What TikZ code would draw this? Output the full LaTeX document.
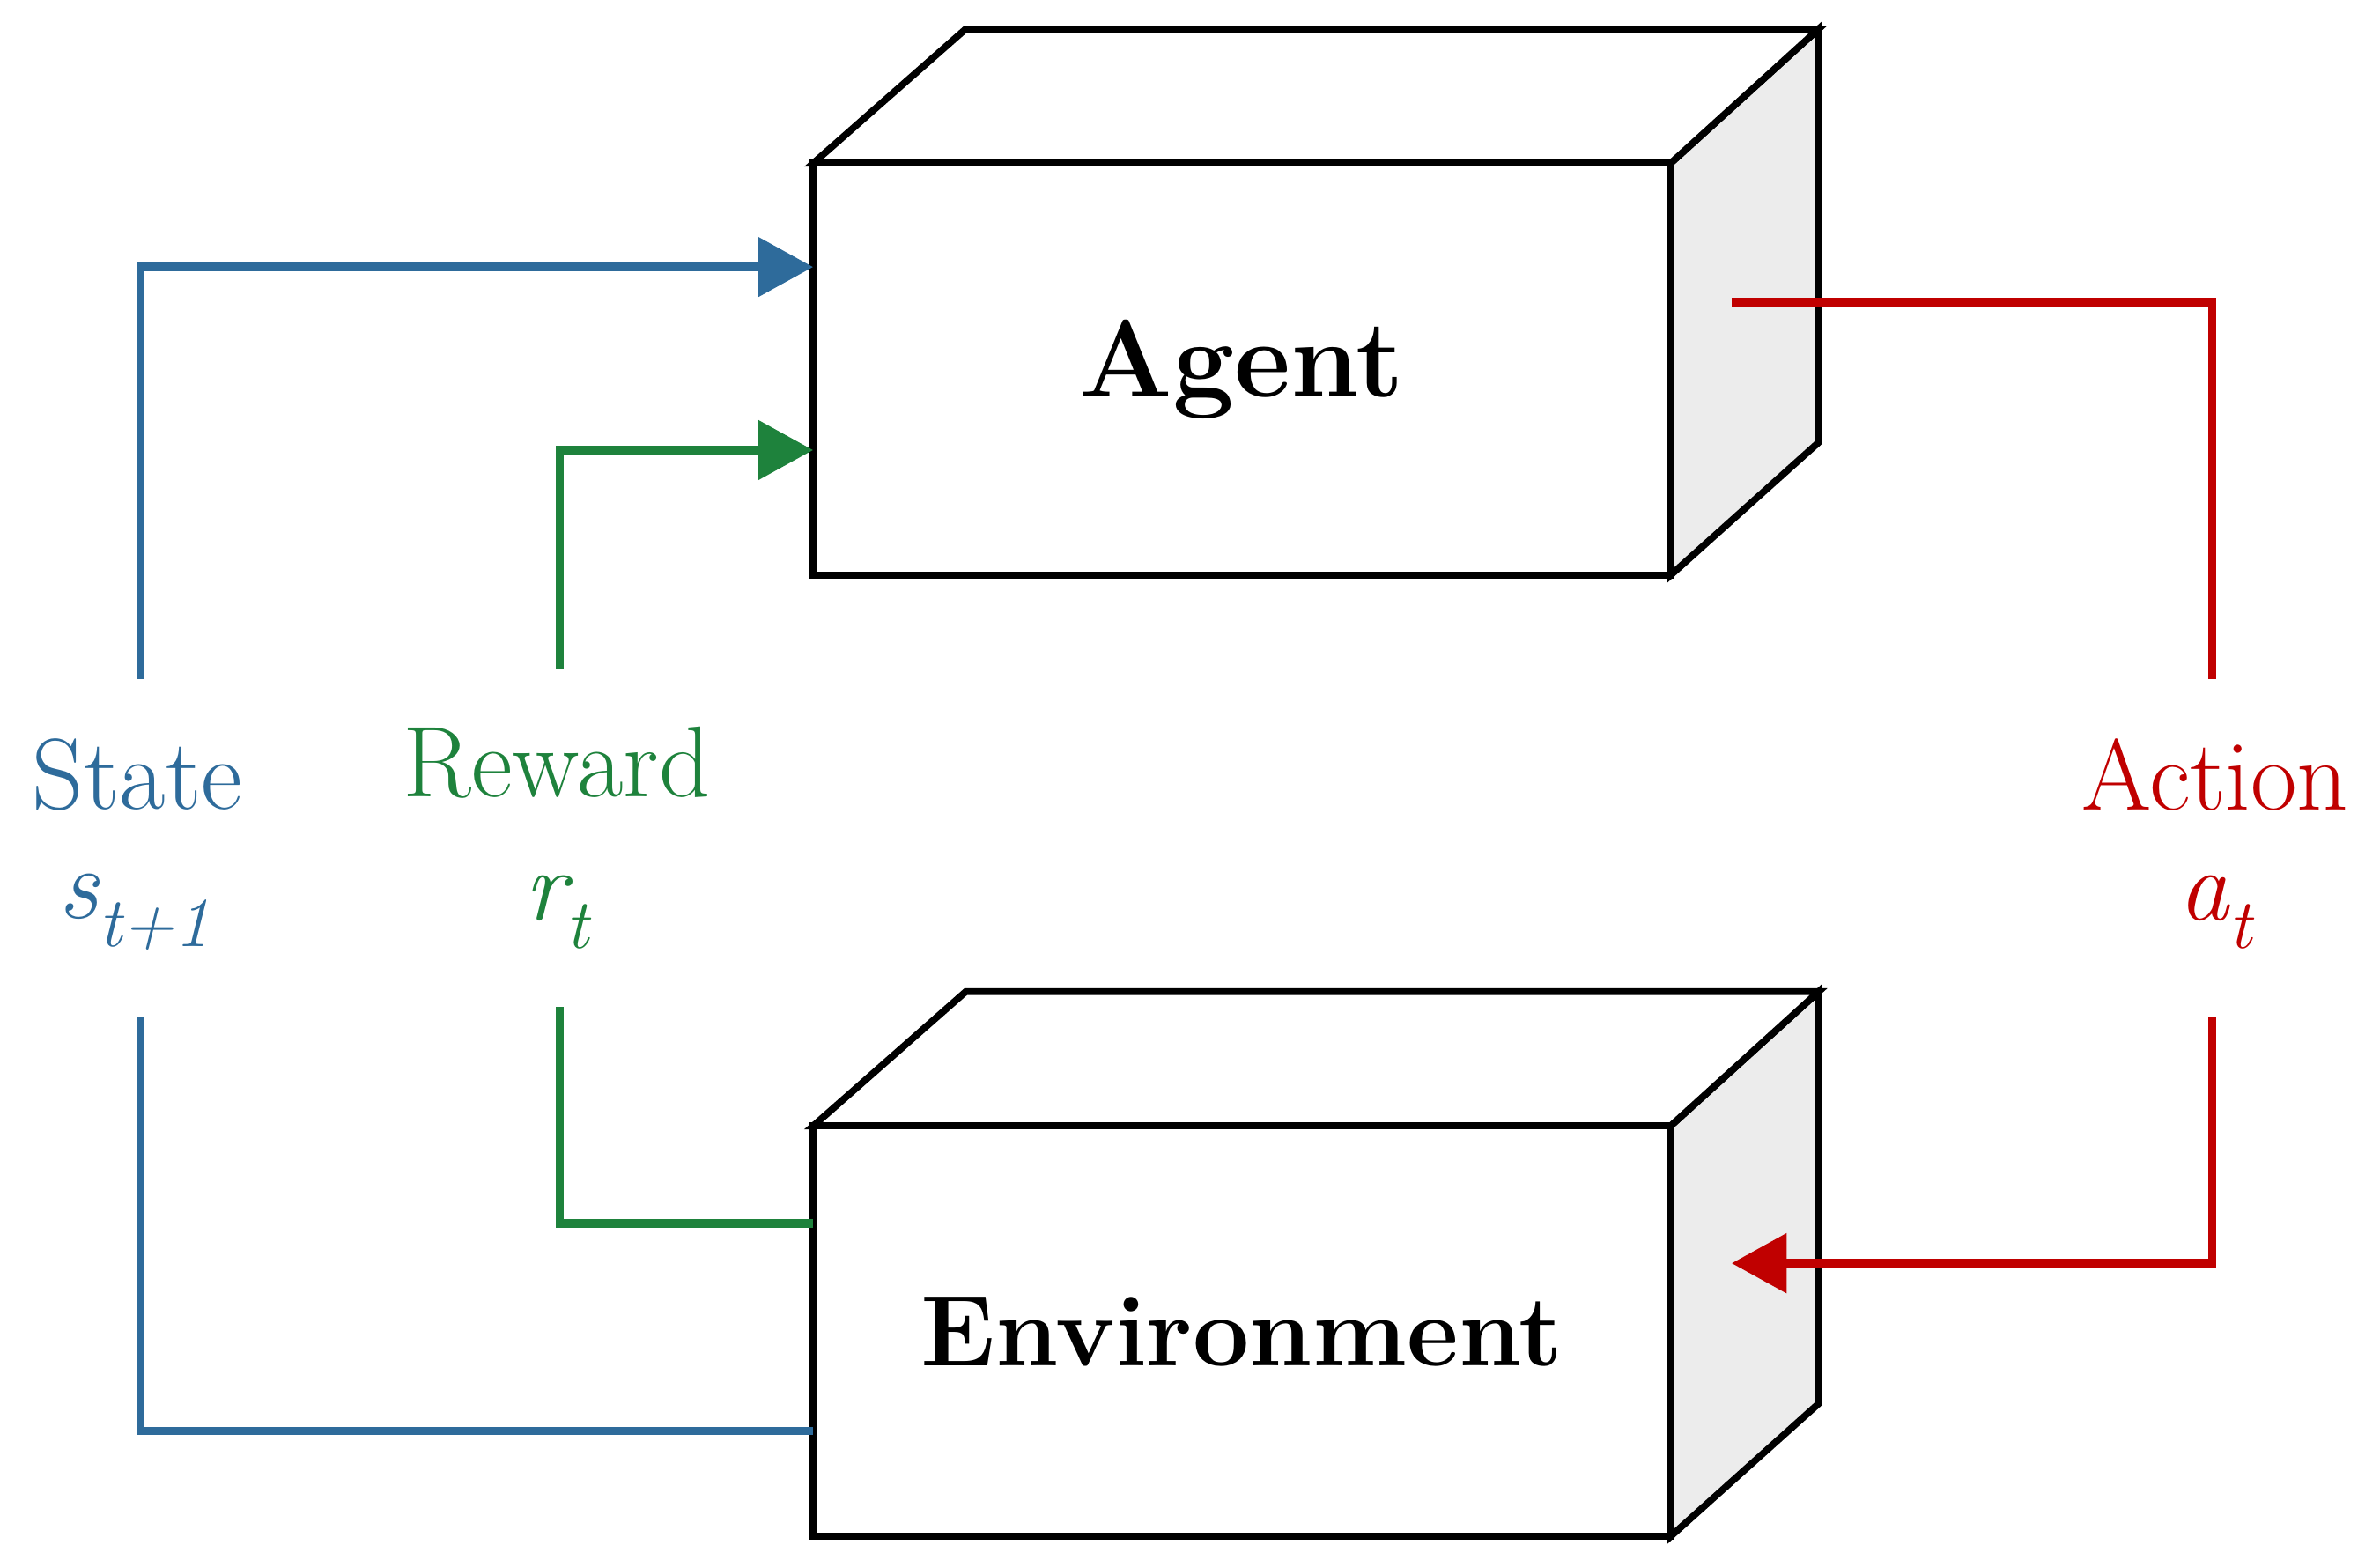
\documentclass[tikz,border=0pt]{standalone}
\usetikzlibrary{arrows.meta}
\begin{document}
\definecolor{sblue}{RGB}{46,107,155}
\definecolor{sgreen}{RGB}{30,130,60}
\definecolor{sred}{RGB}{192,0,0}
\newcommand{\mysub}[1]{\raisebox{-0.28em}{\fontsize{46}{46}\selectfont\itshape #1}}
\begin{tikzpicture}[x=1pt,y=-1pt,
  box/.style={line width=4.5pt,line join=miter},
  conn/.style={line width=5.5pt,line join=miter,-{Triangle[length=36pt,width=38pt]}},
  plain/.style={line width=5.5pt,line join=miter},
  lab/.style={font=\fontsize{66}{70}\selectfont},
  mlab/.style={font=\fontsize{66}{66}\selectfont\itshape}]
\useasboundingbox (0,0) rectangle (1560,1022);
% Agent box
\draw[box,fill=gray!15] (1095,107) -- (1192,19) -- (1192,290) -- (1095,377) -- cycle;
\draw[box,fill=white] (533,107) -- (633,19) -- (1192,19) -- (1095,107) -- cycle;
\draw[box,fill=white] (533,107) rectangle (1095,377);
\node[font=\fontsize{72}{78}\selectfont\bfseries] (agent) at (814,242) {Agent};
% Environment box
\draw[box,fill=gray!15] (1095,738) -- (1192,650) -- (1192,920) -- (1095,1007) -- cycle;
\draw[box,fill=white] (533,738) -- (633,650) -- (1192,650) -- (1095,738) -- cycle;
\draw[box,fill=white] (533,738) rectangle (1095,1007);
\node[font=\fontsize{66}{78}\selectfont\bfseries] (env) at (814,873) {Environment};
% labels
\node[lab,text=sblue] (state) at (90,508) {State};
\node[mlab,text=sblue] (st) at (88,598) {s\mysub{t+1}};
\node[lab,text=sgreen] (reward) at (365,500) {Reward};
\node[mlab,text=sgreen] (rt) at (365,598) {r\mysub{t}};
\node[lab,text=sred] (action) at (1452,508) {Action};
\node[mlab,text=sred] (at) at (1452,598) {a\mysub{t}};
% coordinates
\coordinate (b1) at (92,445); \coordinate (b2) at (92,175); \coordinate (b3) at (533,175);
\coordinate (b4) at (92,667); \coordinate (b5) at (92,938); \coordinate (b6) at (533,938);
\coordinate (g1) at (367,438); \coordinate (g2) at (367,295); \coordinate (g3) at (533,295);
\coordinate (g4) at (367,660); \coordinate (g5) at (367,802); \coordinate (g6) at (533,802);
\coordinate (r1) at (1135,198); \coordinate (r2) at (1450,198); \coordinate (r3) at (1450,445);
\coordinate (r4) at (1450,667); \coordinate (r5) at (1450,828); \coordinate (r6) at (1135,828);
\draw[conn,sblue] (b1) -- (b2) -- (b3);
\draw[plain,sblue] (b4) -- (b5) -- (b6);
\draw[conn,sgreen] (g1) -- (g2) -- (g3);
\draw[plain,sgreen] (g4) -- (g5) -- (g6);
\draw[plain,sred] (r1) -- (r2) -- (r3);
\draw[conn,sred] (r4) -- (r5) -- (r6);
\end{tikzpicture}
\end{document}
